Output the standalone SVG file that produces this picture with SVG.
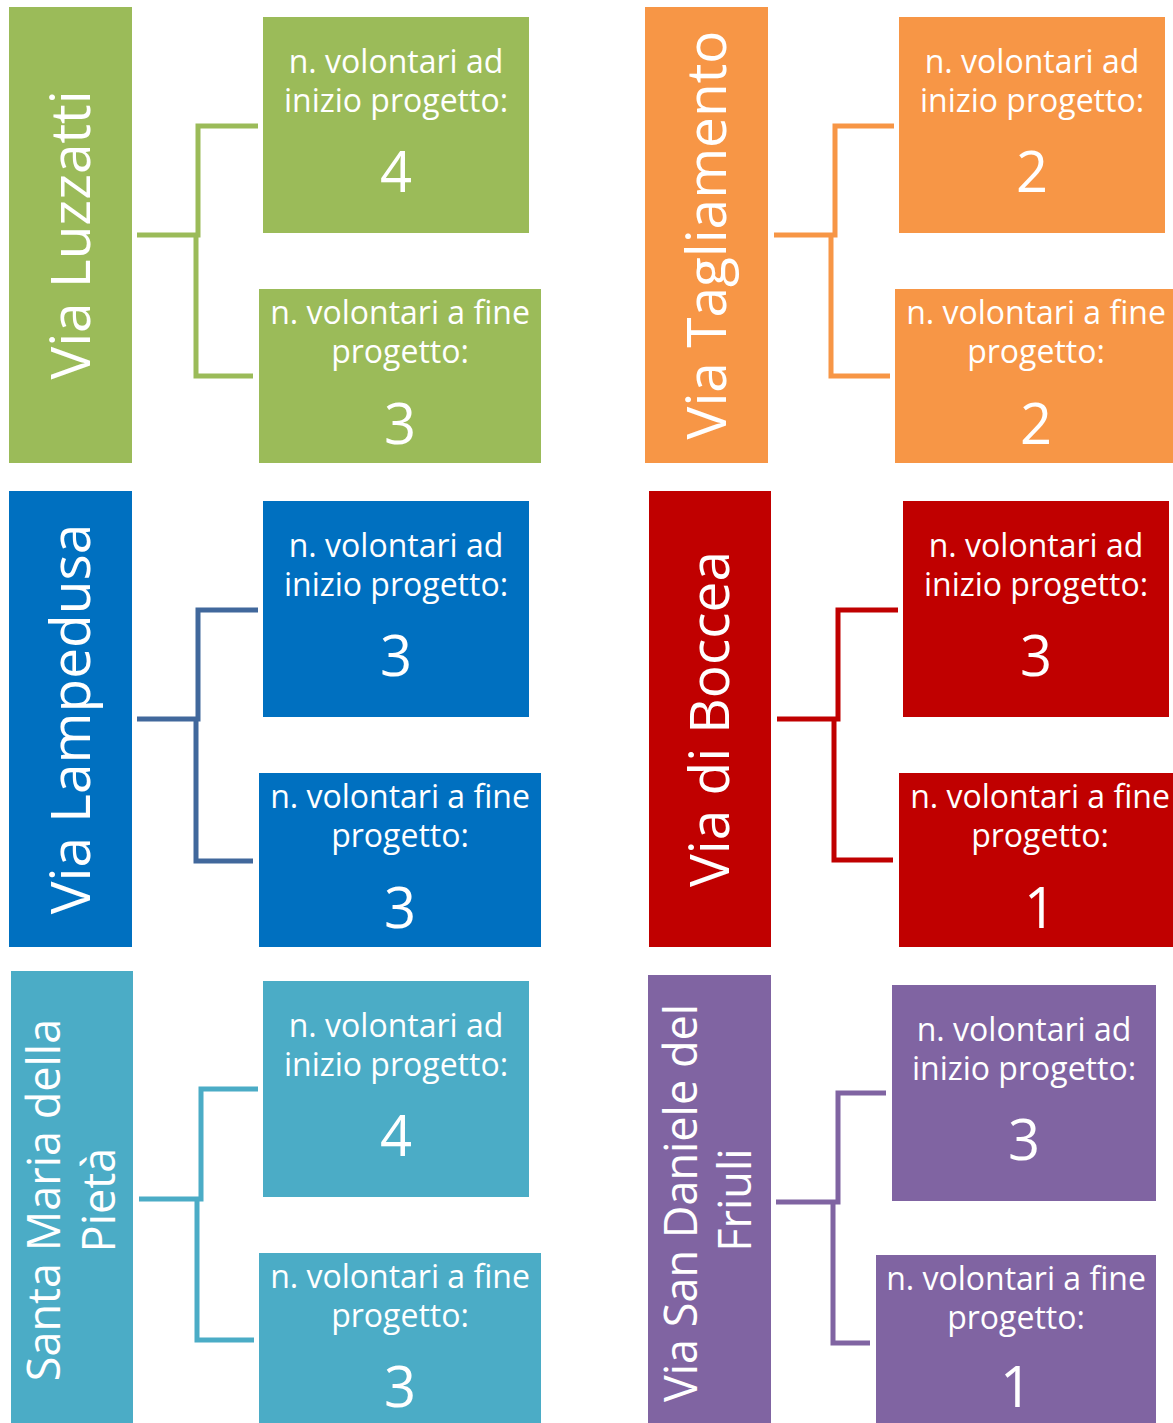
<svg xmlns="http://www.w3.org/2000/svg" width="1173" height="1423" viewBox="0 0 1173 1423">
<style>
text{font-family:"Open Sans","Liberation Sans",sans-serif;fill:#fff;text-anchor:middle}
.lbl{font-size:32px}
.num{font-size:56px}
.vt{font-size:55px}
.vt2{font-size:45px}
.c{fill:none;stroke-width:5;stroke-linejoin:miter;stroke-linecap:butt}
.g{fill:#9BBB59}.o{fill:#F79646}.b{fill:#0070C0}.r{fill:#C00000}.t{fill:#4BACC6}.p{fill:#8064A2}
</style>
<rect width="1173" height="1423" fill="#fff"/>
<g id="connectors">
<path class="c" stroke="#9BBB59" d="M137,235H198V126H258M196,235V376H253"/>
<path class="c" stroke="#F79646" d="M774,235H835V126H894M831,235V376H890"/>
<path class="c" stroke="#41689C" d="M137,719H198V610H258M196,719V861H253"/>
<path class="c" stroke="#C00000" d="M777,719H838V610H898M834,719V860H893"/>
<path class="c" stroke="#4BACC6" d="M139,1199H201V1089H258M197,1199V1340H254"/>
<path class="c" stroke="#8064A2" d="M776,1202H838V1093H886M833,1202V1343H870"/>
</g>
<g id="luzzatti"><rect class="g" x="9" y="7" width="123" height="456"/><text class="vt" transform="translate(90,235) rotate(-90)">Via Luzzatti</text></g>
<g id="luzzatti-inizio"><rect class="g" x="263" y="17" width="266" height="216"/><text class="lbl" x="396" y="73">n. volontari ad</text><text class="lbl" x="396" y="112">inizio progetto:</text><text class="num" x="396" y="192">4</text></g>
<g id="luzzatti-fine"><rect class="g" x="259" y="289" width="282" height="174"/><text class="lbl" x="400" y="324">n. volontari a fine</text><text class="lbl" x="400" y="363">progetto:</text><text class="num" x="400" y="444">3</text></g>

<g id="tagliamento"><rect class="o" x="645" y="7" width="123" height="456"/><text class="vt" transform="translate(726,235) rotate(-90)">Via Tagliamento</text></g>
<g id="tagliamento-inizio"><rect class="o" x="899" y="17" width="266" height="216"/><text class="lbl" x="1032" y="73">n. volontari ad</text><text class="lbl" x="1032" y="112">inizio progetto:</text><text class="num" x="1032" y="192">2</text></g>
<g id="tagliamento-fine"><rect class="o" x="895" y="289" width="282" height="174"/><text class="lbl" x="1036" y="324">n. volontari a fine</text><text class="lbl" x="1036" y="363">progetto:</text><text class="num" x="1036" y="444">2</text></g>

<g id="lampedusa"><rect class="b" x="9" y="491" width="123" height="456"/><text class="vt" transform="translate(90,719) rotate(-90)">Via Lampedusa</text></g>
<g id="lampedusa-inizio"><rect class="b" x="263" y="501" width="266" height="216"/><text class="lbl" x="396" y="557">n. volontari ad</text><text class="lbl" x="396" y="596">inizio progetto:</text><text class="num" x="396" y="676">3</text></g>
<g id="lampedusa-fine"><rect class="b" x="259" y="773" width="282" height="174"/><text class="lbl" x="400" y="808">n. volontari a fine</text><text class="lbl" x="400" y="847">progetto:</text><text class="num" x="400" y="928">3</text></g>

<g id="boccea"><rect class="r" x="649" y="491" width="122" height="456"/><text class="vt" transform="translate(729,719) rotate(-90)">Via di Boccea</text></g>
<g id="boccea-inizio"><rect class="r" x="903" y="501" width="266" height="216"/><text class="lbl" x="1036" y="557">n. volontari ad</text><text class="lbl" x="1036" y="596">inizio progetto:</text><text class="num" x="1036" y="676">3</text></g>
<g id="boccea-fine"><rect class="r" x="899" y="773" width="282" height="174"/><text class="lbl" x="1040" y="808">n. volontari a fine</text><text class="lbl" x="1040" y="847">progetto:</text><text class="num" x="1040" y="928">1</text></g>

<g id="santa-maria"><rect class="t" x="11" y="971" width="122" height="456"/><text class="vt2" transform="translate(60,1200) rotate(-90)">Santa Maria della</text><text class="vt2" transform="translate(115,1200) rotate(-90)">Pietà</text></g>
<g id="santa-maria-inizio"><rect class="t" x="263" y="981" width="266" height="216"/><text class="lbl" x="396" y="1037">n. volontari ad</text><text class="lbl" x="396" y="1076">inizio progetto:</text><text class="num" x="396" y="1156">4</text></g>
<g id="santa-maria-fine"><rect class="t" x="259" y="1253" width="282" height="174"/><text class="lbl" x="400" y="1288">n. volontari a fine</text><text class="lbl" x="400" y="1327">progetto:</text><text class="num" x="400" y="1407">3</text></g>

<g id="san-daniele"><rect class="p" x="648" y="975" width="123" height="452"/><text class="vt2" transform="translate(697,1203) rotate(-90)">Via San Daniele del</text><text class="vt2" transform="translate(751,1200) rotate(-90)">Friuli</text></g>
<g id="san-daniele-inizio"><rect class="p" x="892" y="985" width="264" height="216"/><text class="lbl" x="1024" y="1041">n. volontari ad</text><text class="lbl" x="1024" y="1080">inizio progetto:</text><text class="num" x="1024" y="1160">3</text></g>
<g id="san-daniele-fine"><rect class="p" x="876" y="1255" width="280" height="172"/><text class="lbl" x="1016" y="1290">n. volontari a fine</text><text class="lbl" x="1016" y="1329">progetto:</text><text class="num" x="1016" y="1407">1</text></g>
</svg>
